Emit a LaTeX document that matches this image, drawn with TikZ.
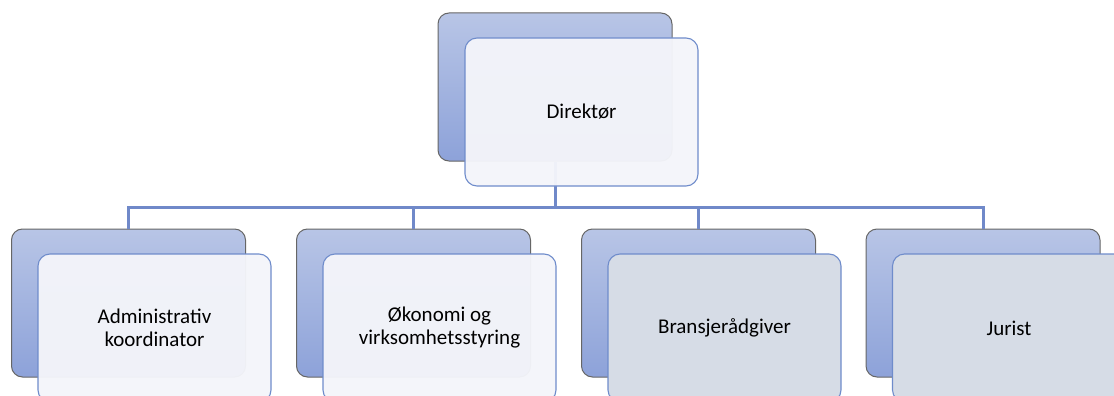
\documentclass[tikz,border=0pt]{standalone}
\usepackage{fontspec}
\setmainfont{Carlito}
\begin{document}
\begin{tikzpicture}[x=1pt,y=-1pt,
  backbox/.style={draw=black!60, line width=1pt, rounded corners=11pt, top color=bgtop, bottom color=bgbot,
    minimum width=234pt, minimum height=148pt, inner sep=0pt},
  frontbox/.style={draw=edgeblue, line width=1.1pt, rounded corners=12pt, fill=frontlight, fill opacity=0.96, text opacity=1,
    minimum width=233pt, minimum height=148pt, inner sep=0pt, align=center,
    font=\fontsize{21}{23}\selectfont, text=black},
  frontgray/.style={frontbox, fill=frontgrey, fill opacity=1},
  conn/.style={draw=connblue, line width=3pt}]
\definecolor{bgtop}{HTML}{B8C5E6}
\definecolor{bgbot}{HTML}{8DA2D9}
\definecolor{edgeblue}{HTML}{6F8CCB}
\definecolor{frontlight}{HTML}{F4F5FA}
\definecolor{frontgrey}{HTML}{D6DCE6}
\definecolor{connblue}{HTML}{7089C9}
\useasboundingbox (0,0) rectangle (1114,396);
\clip (0,0) rectangle (1114,396);
\fill[white] (0,0) rectangle (1114,396);
% back boxes
\node[backbox] (tb) at (555,87) {};
\node[backbox] (b1) at (128.5,303) {};
\node[backbox] (b2) at (413.5,303) {};
\node[backbox] (b3) at (698.5,303) {};
\node[backbox] (b4) at (983,303) {};
% connectors
\coordinate (j) at (555,207);
\draw[conn] (tb.south) -- (tb.south |- j);
\draw[conn] (b1.north) -- (b1.north |- j) -- (b4.north |- j) -- (b4.north);
\draw[conn] (b2.north) -- (b2.north |- j);
\draw[conn] (b3.north) -- (b3.north |- j);
% front boxes
\node[frontbox] (ft) at (581.5,112) {Direktør};
\node[frontbox] (f1) at (154.5,328) {Administrativ\\koordinator};
\node[frontbox] (f2) at (439.5,328) {Økonomi og\\virksomhetsstyring};
\node[frontgray] (f3) at (724.5,328) {Bransjerådgiver};
\node[frontgray] (f4) at (1009,328) {Jurist};
\end{tikzpicture}
\end{document}
